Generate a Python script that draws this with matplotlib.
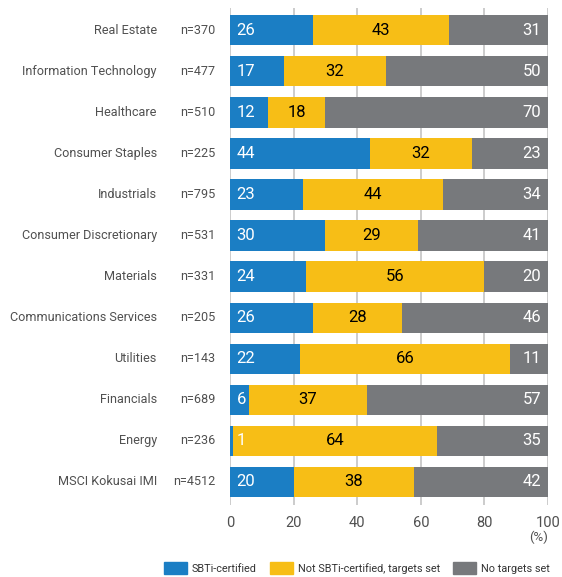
import numpy as np
import matplotlib
matplotlib.use("Agg")
import matplotlib.pyplot as plt
from matplotlib.patches import Patch

plt.rcParams['font.family'] = ['Roboto', 'DejaVu Sans']

# Data
sectors = ['Real Estate', 'Information Technology', 'Healthcare', 'Consumer Staples',
           'Industrials', 'Consumer Discretionary', 'Materials', 'Communications Services',
           'Utilities', 'Financials', 'Energy', 'MSCI Kokusai IMI']
counts = ['n=370', 'n=477', 'n=510', 'n=225', 'n=795', 'n=531', 'n=331', 'n=205',
          'n=143', 'n=689', 'n=236', 'n=4512']
sbti = [26, 17, 12, 44, 23, 30, 24, 26, 22, 6, 1, 20]
targets = [43, 32, 18, 32, 44, 29, 56, 28, 66, 37, 64, 38]
no_targets = [31, 50, 70, 23, 34, 41, 20, 46, 11, 57, 35, 42]
series_names = ['SBTi-certified', 'Not SBTi-certified, targets set', 'No targets set']

blue = '#1b7ec4'
yellow = '#f7be16'
gray = '#77797c'
text_col = '#505050'

fig = plt.figure(figsize=(5.62, 5.77), dpi=100)
ax = fig.add_axes([230 / 562, 1 - 505 / 577, 318 / 562, 497 / 577])

y = np.arange(len(sectors))
a = np.array(sbti)
b = np.array(targets)
h = 0.74

ax.barh(y, a, height=h, color=blue, zorder=2)
ax.barh(y, b, left=a, height=h, color=yellow, zorder=2)
ax.barh(y, 100 - (a + b), left=a + b, height=h, color=gray, zorder=2)

fs = 12
lab_fs = 9.1
for i in range(len(sectors)):
    ax.text(2.1, y[i], str(sbti[i]), color='white', fontsize=fs,
            va='center', ha='left', zorder=3)
    ax.text(a[i] + b[i] / 2, y[i], str(targets[i]), color='black', fontsize=fs,
            va='center', ha='center', zorder=3)
    ax.text(97.9, y[i], str(no_targets[i]), color='white', fontsize=fs,
            va='center', ha='right', zorder=3)
    ax.text(-23, y[i], sectors[i], color=text_col, fontsize=lab_fs, va='center', ha='right',
            clip_on=False)
    ax.text(-4.5, y[i], counts[i], color=text_col, fontsize=lab_fs, va='center', ha='right',
            clip_on=False)

ax.set_xlim(0, 100)
ax.set_ylim(len(sectors) - 1 + 0.56, -0.54)
ax.set_xticks([0, 20, 40, 60, 80, 100])
ax.set_yticks([])
ax.grid(axis='x', color='#c4c4c4', linewidth=1.2, zorder=0)
for s in ax.spines.values():
    s.set_visible(False)
ax.tick_params(axis='x', length=0, labelsize=10.5, labelcolor=text_col, pad=8)
ax.text(100, -32 / 497, '(%)', transform=ax.get_xaxis_transform(), ha='right', va='center',
        fontsize=9.5, color=text_col)

handles = [Patch(color=blue), Patch(color=yellow), Patch(color=gray)]
fig.legend(handles, series_names, loc='center', bbox_to_anchor=(357 / 562, 1 - 568 / 577),
           ncol=3, frameon=False, fontsize=7.8, handlelength=2.1, handleheight=1.4,
           columnspacing=1.2, handletextpad=0.5, labelcolor='#333333',
           borderpad=0, borderaxespad=0)

fig.savefig('out.png', dpi=100)
